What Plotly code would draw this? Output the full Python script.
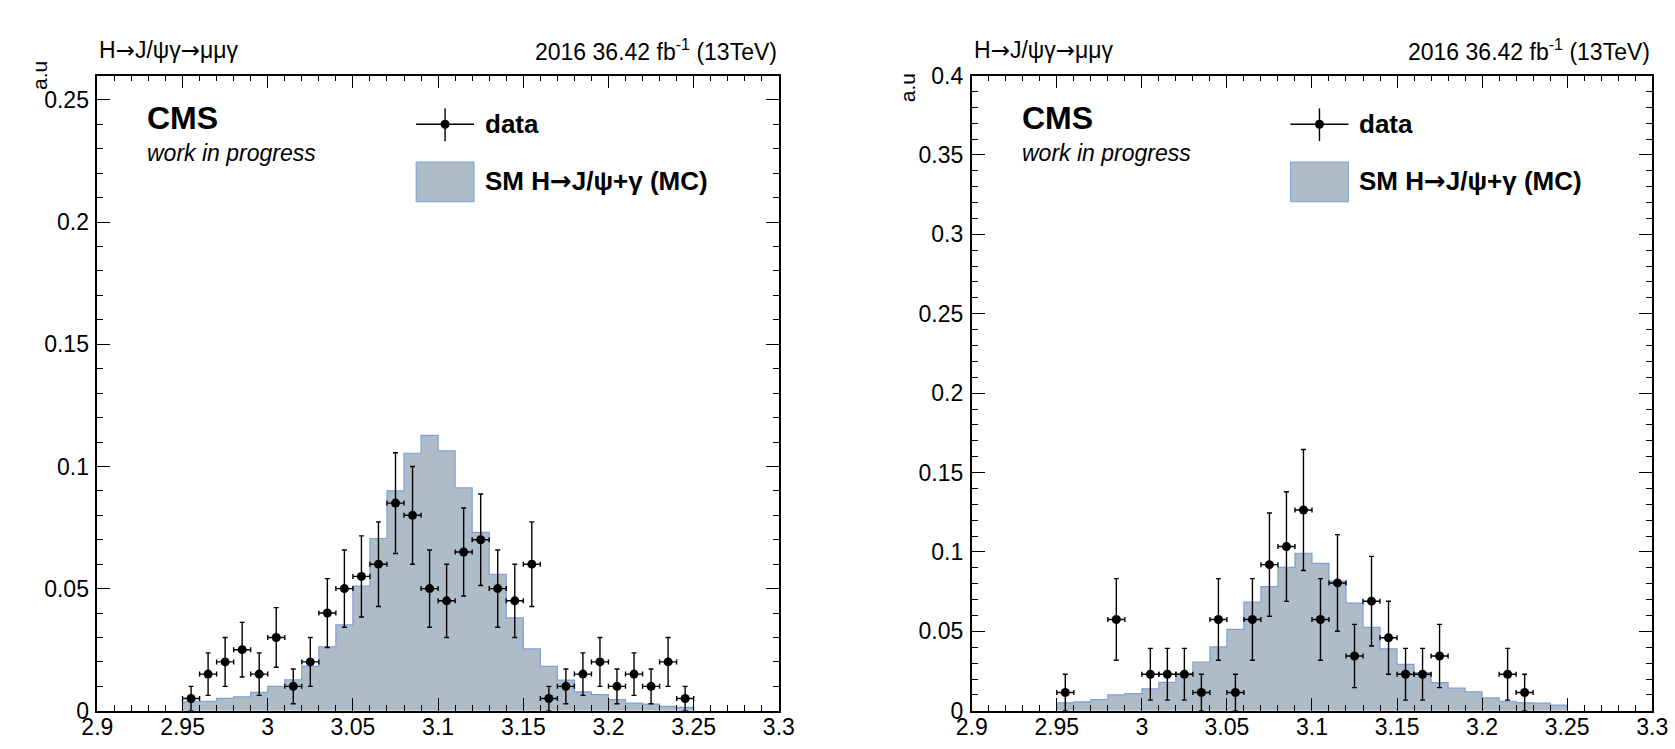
import plotly.graph_objects as go

# ---------------- data ----------------
bin_centers = [2.955, 2.965, 2.975, 2.985, 2.995, 3.005, 3.015, 3.025, 3.035, 3.045,
               3.055, 3.065, 3.075, 3.085, 3.095, 3.105, 3.115, 3.125, 3.135, 3.145,
               3.155, 3.165, 3.175, 3.185, 3.195, 3.205, 3.215, 3.225, 3.235, 3.245]
bin_half_width = 0.005

mc_left = [0.0037, 0.0039, 0.0051, 0.0057, 0.0075, 0.0100, 0.0127, 0.0183, 0.0262, 0.0352,
           0.0510, 0.0705, 0.0900, 0.1054, 0.1127, 0.1064, 0.0912, 0.0730, 0.0558, 0.0380,
           0.0253, 0.0182, 0.0126, 0.0077, 0.0066, 0.0046, 0.0031, 0.0027, 0.0018, 0.0014]
data_left = [0.005, 0.015, 0.020, 0.025, 0.015, 0.030, 0.010, 0.020, 0.040, 0.050,
             0.055, 0.060, 0.085, 0.080, 0.050, 0.045, 0.065, 0.070, 0.050, 0.045,
             0.060, 0.005, 0.010, 0.015, 0.020, 0.010, 0.015, 0.010, 0.020, 0.005]
err_left = [0.0050, 0.0087, 0.0100, 0.0112, 0.0087, 0.0122, 0.0071, 0.0100, 0.0141, 0.0158,
            0.0166, 0.0173, 0.0206, 0.0200, 0.0158, 0.0150, 0.0180, 0.0187, 0.0158, 0.0150,
            0.0173, 0.0050, 0.0071, 0.0087, 0.0100, 0.0071, 0.0087, 0.0071, 0.0100, 0.0050]

mc_right = [0.0050, 0.0056, 0.0071, 0.0100, 0.0108, 0.0138, 0.0179, 0.0236, 0.0306, 0.0402,
            0.0513, 0.0684, 0.0782, 0.0903, 0.0992, 0.0928, 0.0817, 0.0678, 0.0525, 0.0390,
            0.0292, 0.0240, 0.0177, 0.0142, 0.0119, 0.0081, 0.0060, 0.0050, 0.0048, 0.0035]
data_right_x = [2.955, 2.985, 3.005, 3.015, 3.025, 3.035, 3.045, 3.055, 3.065, 3.075, 3.085,
                3.095, 3.105, 3.115, 3.125, 3.135, 3.145, 3.155, 3.165, 3.175, 3.215, 3.225]
data_right = [0.0115, 0.0575, 0.0230, 0.0230, 0.0230, 0.0115, 0.0575, 0.0115, 0.0575, 0.0920, 0.1034,
              0.1264, 0.0575, 0.0805, 0.0345, 0.0690, 0.0460, 0.0230, 0.0230, 0.0345, 0.0230, 0.0115]
err_right = [0.0115, 0.0257, 0.0163, 0.0163, 0.0163, 0.0115, 0.0257, 0.0115, 0.0257, 0.0325, 0.0345,
             0.0381, 0.0257, 0.0304, 0.0199, 0.0282, 0.0230, 0.0163, 0.0163, 0.0199, 0.0163, 0.0115]

x_range = [2.9, 3.3]
y_range_left = [0, 0.26]
y_range_right = [0, 0.4]

ARROW = '<span style="font-family:DejaVu Sans">\u2192</span>'
title_left = "H" + ARROW + "J/\u03c8\u03b3" + ARROW + "\u03bc\u03bc\u03b3"
title_right = "2016 36.42 fb<sup>-1</sup> (13TeV)"
legend_data = "data"
legend_mc = "SM H" + ARROW + "J/\u03c8+\u03b3 (MC)"
y_title = "a.u"

# ---------------- style / geometry ----------------
FONT = "Liberation Sans, Arial, sans-serif"
FILL = "#adbcc7"
EDGE = "#7f9fd9"

FW, FH = 1675, 749
# measured mapping of figure pixels onto the photographed page
SX, OX = 0.9816, 13.6
SY, OY = 0.971, 9.1


def px(P):
    return ((P - OX) / SX) / FW


def py(P):
    return 1 - ((P - OY) / SY) / FH


panels = [
    dict(x0=95, x1=777, mc=mc_left, dx=bin_centers, dy=data_left, de=err_left, yr=y_range_left, ax="", yt=(37, 72)),
    dict(x0=970, x1=1651, mc=mc_right, dx=data_right_x, dy=data_right, de=err_right, yr=y_range_right, ax="2", yt=(906, 84)),
]
top_px, bot_px = 72, 711

fig = go.Figure()
shapes = []
annotations = []

for i, p in enumerate(panels):
    xa = "x" + p["ax"]
    ya = "y" + p["ax"]
    edges = [c - bin_half_width for c in bin_centers]
    last_edge = bin_centers[-1] + bin_half_width
    hx = [edges[0]] + edges + [last_edge, last_edge]
    hy = [0] + list(p["mc"]) + [p["mc"][-1], 0]
    fig.add_trace(go.Scatter(x=hx, y=hy, mode="lines", line=dict(shape="hv", color=EDGE, width=1.2),
                             fill="tozeroy", fillcolor=FILL, xaxis=xa, yaxis=ya, showlegend=False,
                             hoverinfo="skip"))
    fig.add_trace(go.Scatter(x=p["dx"], y=p["dy"], mode="markers",
                             marker=dict(color="black", size=9),
                             error_y=dict(type="data", array=p["de"], color="black", thickness=1.4, width=2.5),
                             error_x=dict(type="constant", value=bin_half_width, color="black", thickness=1.4, width=2.5),
                             xaxis=xa, yaxis=ya, showlegend=False))

    dom_x = [px(p["x0"]), px(p["x1"])]
    dom_y = [py(bot_px), py(top_px)]
    common = dict(showgrid=False, zeroline=False, showline=True, linecolor="black", linewidth=1.6,
                  mirror="allticks", ticks="inside", ticklen=13, tickwidth=1.2, tickcolor="black",
                  tickfont=dict(family=FONT, size=23, color="black"))
    fig.update_layout(**{
        "xaxis" + p["ax"]: dict(domain=dom_x, range=x_range, dtick=0.05, tick0=2.9, anchor=ya,
                                ticklabelstandoff=-5,
                                minor=dict(dtick=0.01, ticklen=6, ticks="inside", tickcolor="black", tickwidth=1.2),
                                **common),
        "yaxis" + p["ax"]: dict(domain=dom_y, range=p["yr"], dtick=0.05, tick0=0, anchor=xa,
                                ticklabelstandoff=2,
                                minor=dict(dtick=0.01, ticklen=6, ticks="inside", tickcolor="black", tickwidth=1.2),
                                **common),
    })

    x0 = p["x0"]
    annotations.append(dict(x=px(x0), y=py(46), xref="paper", yref="paper", text=title_left,
                            showarrow=False, xanchor="left", yanchor="middle",
                            font=dict(family=FONT, size=23, color="black")))
    annotations.append(dict(x=px(p["x1"]), y=py(46), xref="paper", yref="paper", text=title_right,
                            showarrow=False, xanchor="right", yanchor="middle",
                            font=dict(family=FONT, size=23, color="black")))
    annotations.append(dict(x=px(p["yt"][0]), y=py(p["yt"][1]), xref="paper", yref="paper", text=y_title,
                            showarrow=False, xanchor="center", yanchor="middle", textangle=-90,
                            font=dict(family=FONT, size=21, color="black")))
    annotations.append(dict(x=px(x0 + 48), y=py(115), xref="paper", yref="paper", text="<b>CMS</b>",
                            showarrow=False, xanchor="left", yanchor="middle",
                            font=dict(family=FONT, size=32, color="black")))
    annotations.append(dict(x=px(x0 + 48), y=py(150), xref="paper", yref="paper",
                            text="<i>work in progress</i>", showarrow=False, xanchor="left", yanchor="middle",
                            font=dict(family=FONT, size=23, color="black")))
    lx0, lx1 = x0 + 319, x0 + 377
    lxc = (lx0 + lx1) / 2
    ly = 121
    shapes.append(dict(type="line", xref="paper", yref="paper", x0=px(lx0), x1=px(lx1), y0=py(ly), y1=py(ly),
                       line=dict(color="black", width=1.4)))
    shapes.append(dict(type="line", xref="paper", yref="paper", x0=px(lxc), x1=px(lxc), y0=py(ly - 16), y1=py(ly + 17),
                       line=dict(color="black", width=1.4)))
    shapes.append(dict(type="circle", xref="paper", yref="paper", x0=px(lxc - 4.5), x1=px(lxc + 4.5),
                       y0=py(ly + 4.5), y1=py(ly - 4.5), fillcolor="black", line=dict(color="black", width=0)))
    annotations.append(dict(x=px(lx1 + 9), y=py(ly), xref="paper", yref="paper", text="<b>" + legend_data + "</b>",
                            showarrow=False, xanchor="left", yanchor="middle",
                            font=dict(family=FONT, size=26, color="black")))
    shapes.append(dict(type="rect", xref="paper", yref="paper", x0=px(lx0), x1=px(lx1), y0=py(199), y1=py(159),
                       fillcolor=FILL, line=dict(color=EDGE, width=1)))
    annotations.append(dict(x=px(lx1 + 9), y=py(178), xref="paper", yref="paper", text="<b>" + legend_mc + "</b>",
                            showarrow=False, xanchor="left", yanchor="middle",
                            font=dict(family=FONT, size=26, color="black")))

fig.update_layout(width=FW, height=FH, margin=dict(l=0, r=0, t=0, b=0),
                  paper_bgcolor="white", plot_bgcolor="white",
                  shapes=shapes, annotations=annotations, showlegend=False,
                  font=dict(family=FONT, color="black"))

fig.write_html("out.html")
